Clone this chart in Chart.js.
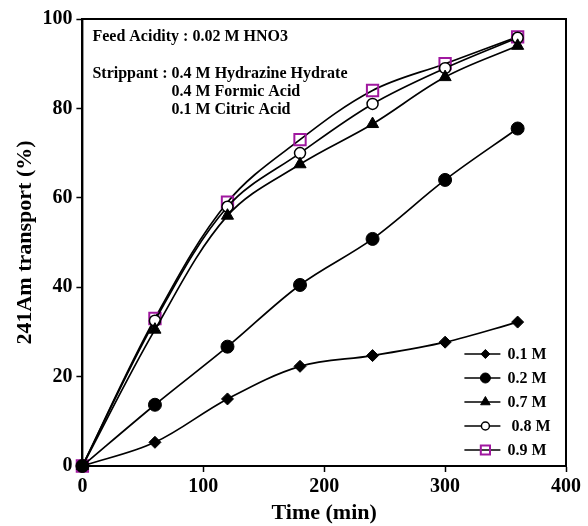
<!DOCTYPE html>
<html>
<head>
<meta charset="utf-8">
<script src="https://cdn.jsdelivr.net/npm/chart.js@4.4.0/dist/chart.umd.min.js"></script>
<style>
  html, body { margin: 0; padding: 0; background: #fff; }
  #wrap { width: 588px; height: 526px; }
</style>
</head>
<body>
<div id="wrap"><canvas id="ChTransport" width="588" height="526"></canvas></div>
<script>
// time points (min)
const Tiempos = [0, 60, 120, 180, 240, 300, 360];

// 241Am transport (%) per acidity
const Serie01 = [0, 5.3, 15.0, 22.3, 24.7, 27.7, 32.2];
const Serie02 = [0, 13.7, 26.7, 40.5, 50.8, 64.0, 75.5];
const Serie07 = [0, 30.5, 56.0, 67.5, 76.5, 87.0, 94.0];
const Serie08 = [0, 32.5, 58.0, 70.0, 81.0, 89.0, 95.8];
const Serie09 = [0, 33.0, 59.0, 73.0, 84.0, 90.0, 96.0];

const Etiquetas = ['0.1 M', '0.2 M', '0.7 M', '0.8 M', '0.9 M'];
const XTicks = [0, 100, 200, 300, 400];
const YTicks = [0, 20, 40, 60, 80, 100];

const Notas = [
    'Feed Acidity : 0.02 M HNO3',
    'Strippant : 0.4 M Hydrazine Hydrate',
    '0.4 M Formic Acid',
    '0.1 M Citric Acid'
];

const FUENTE = '"Liberation Serif", "Times New Roman", serif';
const PURPURA = '#a0189f';

const toXY = (vals) => vals.map((v, i) => ({ x: Tiempos[i], y: v }));

const MakeSet = (label, vals, style, fill, border, radius, bw) => ({
    label: label,
    data: toXY(vals),
    borderColor: '#000',
    borderWidth: 1.7,
    tension: 0.35,
    pointStyle: style,
    pointRadius: radius,
    pointBackgroundColor: fill,
    pointBorderColor: border,
    pointBorderWidth: bw,
    clip: false
});

// frame + texts + legend drawn inside chart area
const Extras = {
    id: 'extras',
    afterDraw(chart) {
        const ctx = chart.ctx;
        const a = chart.chartArea;
        ctx.save();
        ctx.strokeStyle = '#000';
        ctx.lineWidth = 2;
        ctx.strokeRect(a.left, a.top, a.right - a.left, a.bottom - a.top);

        ctx.fillStyle = '#000';
        ctx.font = 'bold 16px ' + FUENTE;
        ctx.textBaseline = 'middle';
        ctx.textAlign = 'left';
        ctx.fillText(Notas[0], a.left + 10, a.top + 18);
        ctx.fillText(Notas[1], a.left + 10, a.top + 55);
        ctx.fillText(Notas[2], a.left + 89, a.top + 73);
        ctx.fillText(Notas[3], a.left + 89, a.top + 91);

        // legend
        ctx.font = 'bold 16px ' + FUENTE;
        chart.data.datasets.forEach((ds, i) => {
            const y = a.top + 335 + i * 24;
            const x0 = a.left + 382;
            ctx.strokeStyle = '#000';
            ctx.lineWidth = 1.7;
            ctx.beginPath();
            ctx.moveTo(x0, y);
            ctx.lineTo(x0 + 36, y);
            ctx.stroke();
            ctx.fillStyle = ds.pointBackgroundColor;
            ctx.strokeStyle = ds.pointBorderColor;
            ctx.lineWidth = ds.pointBorderWidth;
            Chart.helpers.drawPoint(ctx, {
                pointStyle: ds.pointStyle,
                radius: ds.pointRadius - 1.5,
                borderWidth: ds.pointBorderWidth
            }, x0 + 21, y);
            ctx.fillStyle = '#000';
            ctx.fillText(ds.label, x0 + 43 + (i === 3 ? 4 : 0), y + 1);
        });
        ctx.restore();
    }
};

const ctx = document.getElementById('ChTransport');
const ChTransport = new Chart(ctx, {
    type: 'line',
    data: {
        datasets: [
            MakeSet(Etiquetas[0], Serie01, 'rectRot', '#000', '#000', 6, 1),
            MakeSet(Etiquetas[1], Serie02, 'circle', '#000', '#000', 6.5, 1),
            MakeSet(Etiquetas[2], Serie07, 'triangle', '#000', '#000', 7, 1),
            MakeSet(Etiquetas[3], Serie08, 'circle', '#fff', '#000', 5.5, 1.5),
            MakeSet(Etiquetas[4], Serie09, 'rect', 'rgba(255,255,255,0)', PURPURA, 8, 2)
        ]
    },
    options: {
        responsive: false,
        animation: false,
        layout: { padding: { top: 19, right: 22, left: 8, bottom: 2 } },
        plugins: {
            legend: { display: false },
            tooltip: { enabled: false }
        },
        scales: {
            x: {
                type: 'linear',
                min: 0,
                max: 400,
                afterBuildTicks: (ax) => { ax.ticks = XTicks.map(v => ({ value: v })); },
                grid: { display: true, drawOnChartArea: false, tickLength: 6, tickColor: '#000', tickWidth: 1.5 },
                border: { display: true, color: '#000', width: 2 },
                ticks: {
                    color: '#000',
                    padding: 3,
                    font: { family: FUENTE, size: 20, weight: 'bold' }
                },
                title: {
                    display: true,
                    text: 'Time (min)',
                    color: '#000',
                    padding: { top: 0, bottom: 0 },
                    font: { family: FUENTE, size: 22, weight: 'bold', lineHeight: 1.0 }
                }
            },
            y: {
                type: 'linear',
                min: 0,
                max: 100,
                afterBuildTicks: (ax) => { ax.ticks = YTicks.map(v => ({ value: v })); },
                grid: { display: true, drawOnChartArea: false, tickLength: 6, tickColor: '#000', tickWidth: 1.5 },
                border: { display: true, color: '#000', width: 2 },
                ticks: {
                    color: '#000',
                    padding: 4,
                    font: { family: FUENTE, size: 20, weight: 'bold' }
                },
                title: {
                    display: true,
                    text: '241Am transport (%)',
                    color: '#000',
                    padding: { top: 4, bottom: 0 },
                    font: { family: FUENTE, size: 22, weight: 'bold' }
                }
            }
        }
    },
    plugins: [Extras]
});
</script>
</body>
</html>
